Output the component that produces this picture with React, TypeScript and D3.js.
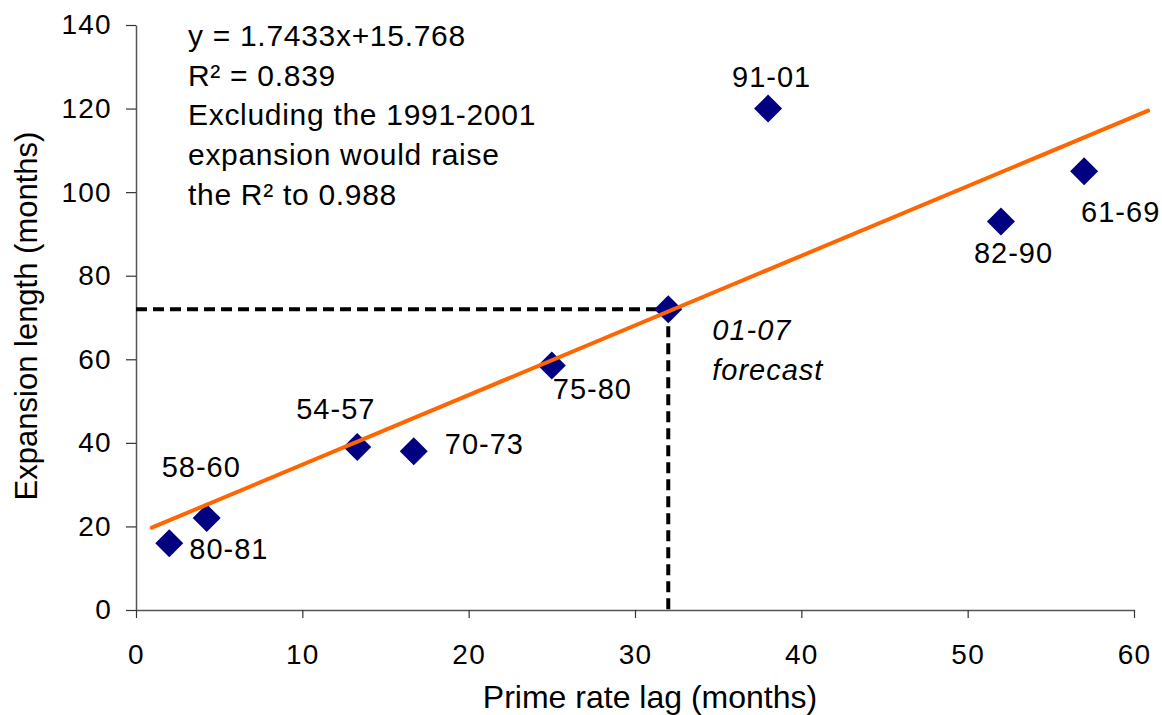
import React, { useEffect, useRef } from "react";
import * as d3 from "d3";

// expansions: prime rate lag vs expansion length (months)
const periods = ["80-81", "58-60", "54-57", "70-73", "75-80", "01-07", "91-01", "82-90", "61-69"];
const lagMonths = [2, 4.25, 13.3, 16.7, 25, 32, 38, 52, 57];
const expansionMonths = [16, 22, 39, 38, 58.5, 72, 120, 93, 105];

// trend line as drawn (end points)
const trendLag = [0.95, 60.85];
const trendLength = [19.7, 119.5];

const xTicks = [0, 10, 20, 30, 40, 50, 60];
const yTicks = [0, 20, 40, 60, 80, 100, 120, 140];

const noteLines = [
  "y = 1.7433x+15.768",
  "R² = 0.839",
  "Excluding the 1991-2001",
  "expansion would raise",
  "the R² to 0.988",
];

const forecastPeriod = "01-07";

// label placement relative to each marker: [dx, dy]
const labelOffsets: Record<string, [number, number]> = {
  "80-81": [20, 16],
  "58-60": [-45, -41],
  "54-57": [-61, -28],
  "70-73": [31, 3],
  "75-80": [1, 33],
  "01-07": [44, 31],
  "91-01": [-36, -22],
  "82-90": [-27, 42],
  "61-69": [-3, 51],
};

const FONT = "Arial, 'Liberation Sans', sans-serif";

export default function App() {
  const ref = useRef<SVGSVGElement>(null);

  useEffect(() => {
    const svg = d3.select(ref.current);
    svg.selectAll("*").remove();

    const x = d3.scaleLinear().domain([0, 60]).range([136, 1134]);
    const y = d3.scaleLinear().domain([0, 140]).range([610, 25]);

    // y axis
    const yAxis = d3
      .axisLeft(y)
      .tickValues(yTicks)
      .tickSize(10)
      .tickSizeOuter(0)
      .tickPadding(14);
    const gy = svg.append("g").attr("transform", "translate(136,0)").call(yAxis);
    gy.select(".domain").attr("stroke", "#555").attr("stroke-width", 1.5);
    gy.selectAll(".tick line").attr("stroke", "#333").attr("stroke-width", 1.2);
    gy.selectAll(".tick text")
      .attr("font-family", FONT)
      .attr("font-size", 28)
      .attr("letter-spacing", "1.3px")
      .attr("fill", "#000");

    // x axis
    const xAxis = d3
      .axisBottom(x)
      .tickValues(xTicks)
      .tickSize(8)
      .tickSizeOuter(0)
      .tickPadding(26);
    const gx = svg.append("g").attr("transform", "translate(0,610)").call(xAxis);
    gx.select(".domain").attr("stroke", "#555").attr("stroke-width", 1.5);
    gx.selectAll(".tick line").attr("stroke", "#333").attr("stroke-width", 1.2);
    gx.selectAll(".tick text")
      .attr("font-family", FONT)
      .attr("font-size", 28)
      .attr("letter-spacing", "1.3px")
      .attr("fill", "#000");

    // axis titles
    svg.append("text")
      .attr("x", 650)
      .attr("y", 708)
      .attr("text-anchor", "middle")
      .attr("font-family", FONT)
      .attr("font-size", 32)
      .text("Prime rate lag (months)");

    svg.append("text")
      .attr("transform", "translate(37,316) rotate(-90)")
      .attr("text-anchor", "middle")
      .attr("font-family", FONT)
      .attr("font-size", 31)
      .text("Expansion length (months)");

    // dashed guide to the forecast point
    const fi = periods.indexOf(forecastPeriod);
    const fx = x(lagMonths[fi]);
    const fy = y(expansionMonths[fi]);
    svg.append("path")
      .attr("d", `M${x(0)},${fy}H${fx}M${fx},${fy}V${y(0)}`)
      .attr("fill", "none")
      .attr("stroke", "#000")
      .attr("stroke-width", 4)
      .attr("stroke-dasharray", "11,6");

    // markers
    const diamond = "M0,-14L14,0L0,14L-14,0Z";
    svg.append("g")
      .selectAll("path")
      .data(periods)
      .enter()
      .append("path")
      .attr("d", diamond)
      .attr("transform", (d, i) => `translate(${x(lagMonths[i])},${y(expansionMonths[i])})`)
      .attr("fill", "#000080");

    // trend line
    const line = d3
      .line<number>()
      .x((d) => x(d))
      .y((d, i) => y(trendLength[i]));
    svg.append("path")
      .datum(trendLag)
      .attr("d", line)
      .attr("fill", "none")
      .attr("stroke", "#FF6600")
      .attr("stroke-width", 4)
      .attr("stroke-linecap", "round");

    // point labels
    periods.forEach((p, i) => {
      const [dx, dy] = labelOffsets[p];
      const t = svg.append("text")
        .attr("x", x(lagMonths[i]) + dx)
        .attr("y", y(expansionMonths[i]) + dy)
        .attr("font-family", FONT)
        .attr("font-size", 29)
        .attr("letter-spacing", "1px");
      if (p === forecastPeriod) {
        t.attr("font-style", "italic");
        t.append("tspan").text(p);
        t.append("tspan")
          .attr("x", x(lagMonths[i]) + dx)
          .attr("dy", 40)
          .text("forecast");
      } else {
        t.text(p);
      }
    });

    // regression note
    const note = svg.append("text")
      .attr("font-family", FONT)
      .attr("font-size", 30)
      .attr("letter-spacing", "0.7px");
    noteLines.forEach((s, i) => {
      note.append("tspan")
        .attr("x", 188)
        .attr("y", 46 + i * 39.7)
        .text(s);
    });
  }, []);

  return (
    <div style={{ position: "absolute", left: 0, top: 0 }}>
      <svg ref={ref} width={1162} height={715} style={{ display: "block", background: "#fff" }} />
    </div>
  );
}
